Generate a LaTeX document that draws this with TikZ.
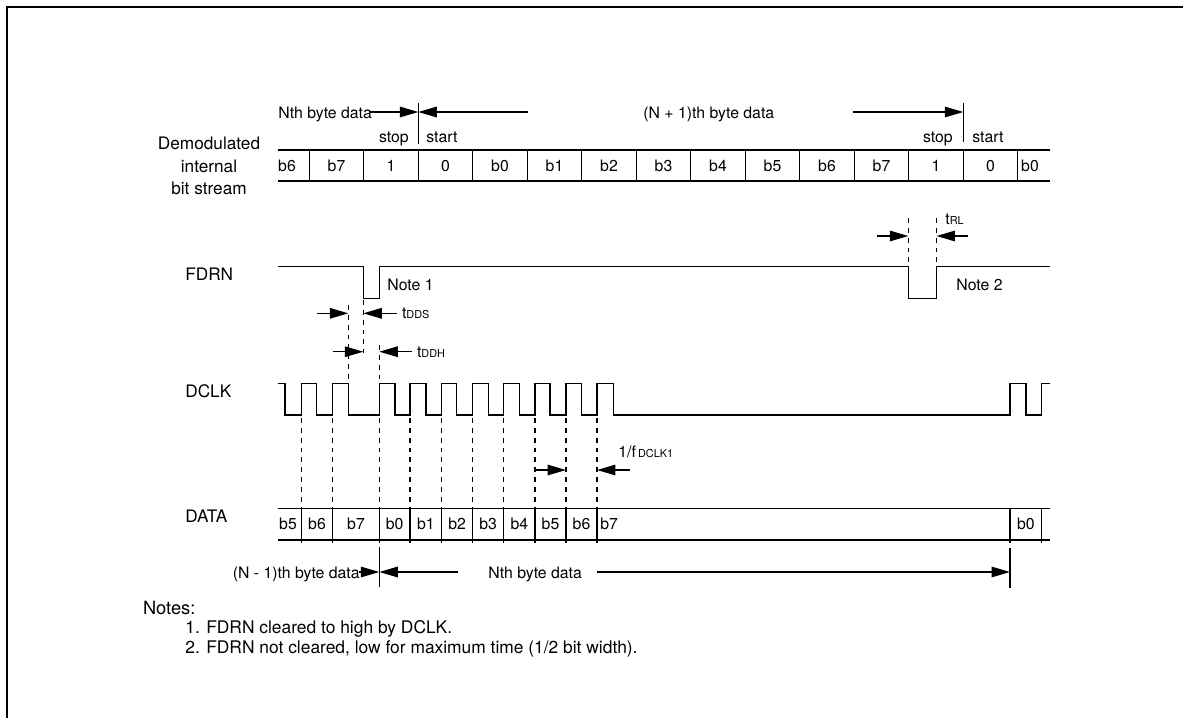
\documentclass[tikz,border=0pt]{standalone}
\usepackage{fontspec}
\setmainfont{TeX Gyre Heros}
\usetikzlibrary{arrows.meta}

\tikzset{
    lbl/.style={inner sep=0pt, font=\fontsize{9}{11}\selectfont, text height=6.5pt, text depth=0pt},
    sig/.style={inner sep=0pt, font=\fontsize{9.8}{12.8}\selectfont, text height=7pt, text depth=0pt},
    notetext/.style={inner sep=0pt, font=\fontsize{9.9}{12}\selectfont, text height=7pt, text depth=0pt},
    wave/.style={line width=0.7pt},
    dashline/.style={line width=0.6pt, dash pattern=on 2.8pt off 2.8pt},
    dimarrow/.style={line width=0.7pt, -{Triangle[length=10.5pt,width=6pt]}},
}
\newcommand{\tsub}[1]{{\fontsize{6.2}{7}\selectfont #1}}

\begin{document}
\begin{tikzpicture}[x=0.02cm, y=-0.02cm]
    \useasboundingbox (0,0) rectangle (1183,718);
    % Frame
    \draw[line width=1pt] (7,718) -- (7,7) -- (1183,7);

    % Signal names
    \node[font=\fontsize{9.8}{12.8}\selectfont, align=center, inner sep=0pt] (bitname) at (209,166) {Demodulated\\internal\\bit stream};
    \node[sig, anchor=west] (fdrnname) at (185,274) {FDRN};
    \node[sig, anchor=west] (dclkname) at (185,391) {DCLK};
    \node[sig, anchor=west] (dataname) at (185,516) {DATA};

    % Bit stream row
    \draw[wave] (278,150) -- (1050,150) (278,181) -- (1050,181);
    \draw[wave] (309.3,150) -- (309.3,182) (363.8,150) -- (363.8,182)
        (418.3,150) -- (418.3,182) (472.8,150) -- (472.8,182)
        (527.3,150) -- (527.3,182) (581.8,150) -- (581.8,182)
        (636.3,150) -- (636.3,182) (690.8,150) -- (690.8,182)
        (745.3,150) -- (745.3,182) (799.8,150) -- (799.8,182)
        (854.3,150) -- (854.3,182) (908.8,150) -- (908.8,182)
        (963.3,150) -- (963.3,182) (1017.8,150) -- (1017.8,182);
    \node[lbl] (s1) at (287,165.5) {b6};
    \node[lbl] (s2) at (336.5,165.5) {b7};
    \node[lbl] (s3) at (391,165.5) {1};
    \node[lbl] (s4) at (445.5,165.5) {0};
    \node[lbl] (s5) at (500,165.5) {b0};
    \node[lbl] (s6) at (554.5,165.5) {b1};
    \node[lbl] (s7) at (609,165.5) {b2};
    \node[lbl] (s8) at (663.5,165.5) {b3};
    \node[lbl] (s9) at (718,165.5) {b4};
    \node[lbl] (s10) at (772.5,165.5) {b5};
    \node[lbl] (s11) at (827,165.5) {b6};
    \node[lbl] (s12) at (881.5,165.5) {b7};
    \node[lbl] (s13) at (936,165.5) {1};
    \node[lbl] (s14) at (990.5,165.5) {0};
    \node[lbl] (s15) at (1030,165.5) {b0};

    % Byte frames above the bit stream
    \node[lbl, anchor=west] (nth) at (278,113) {Nth byte data};
    \node[lbl, anchor=west] (n1th) at (643,113) {(N + 1)th byte data};
    \node[lbl, anchor=east] (stop1) at (409,137) {stop};
    \node[lbl, anchor=west] (start1) at (426,137) {start};
    \node[lbl, anchor=east] (stop2) at (953,137) {stop};
    \node[lbl, anchor=west] (start2) at (972,137) {start};
    \coordinate (sep1top) at (418.3,103);
    \coordinate (sep1bot) at (418.3,144);
    \coordinate (sep2top) at (963.3,103);
    \coordinate (sep2bot) at (963.3,142);
    \coordinate (sep1) at (418.3,112);
    \coordinate (sep2) at (963.3,112);
    \coordinate (nthend) at (370,112);
    \coordinate (n1thbeg) at (528,112);
    \coordinate (n1thend) at (853,112);
    \draw[wave] (sep1top) -- (sep1bot);
    \draw[wave] (sep2top) -- (sep2bot);
    \draw[dimarrow] (nthend) -- (sep1);
    \draw[dimarrow] (n1thbeg) -- (sep1);
    \draw[dimarrow] (n1thend) -- (sep2);

    % FDRN
    \draw[wave] (278,266.7) -- (363.3,266.7) -- (363.3,298.3) -- (379.3,298.3) -- (379.3,266.7)
        -- (908.3,266.7) -- (908.3,298.3) -- (936.5,298.3) -- (936.5,266.7) -- (1050,266.7);
    \node[lbl, anchor=west] (note1) at (387,285) {Note 1};
    \node[lbl, anchor=west] (note2) at (956,285) {Note 2};

    % tRL
    \coordinate (rl1top) at (908.3,218);
    \coordinate (rl1bot) at (908.3,266.7);
    \coordinate (rl2top) at (936.5,218);
    \coordinate (rl2bot) at (936.5,266.7);
    \coordinate (rl1) at (908.3,236);
    \coordinate (rl2) at (936.5,236);
    \coordinate (rlL) at (877,236);
    \coordinate (rlR) at (968,236);
    \draw[dashline] (rl1top) -- (rl1bot);
    \draw[dashline] (rl2top) -- (rl2bot);
    \draw[dimarrow] (rlL) -- (rl1);
    \draw[dimarrow] (rlR) -- (rl2);
    \node[lbl, anchor=west] (trl) at (945,219) {t\tsub{RL}};

    % tDDS and tDDH
    \coordinate (ds1top) at (348.3,305);
    \coordinate (ds1bot) at (348.3,383.3);
    \coordinate (ds2top) at (363.3,300);
    \coordinate (ds2bot) at (363.3,353);
    \coordinate (dh2top) at (379.3,345);
    \coordinate (dh2bot) at (379.3,383.3);
    \draw[dashline] (ds1top) -- (ds1bot);
    \draw[dashline] (ds2top) -- (ds2bot);
    \draw[dashline] (dh2top) -- (dh2bot);
    \coordinate (ds1) at (348.3,313.3);
    \coordinate (ds2) at (363.3,313.3);
    \coordinate (dsL) at (316.7,313.3);
    \coordinate (dsR) at (396.7,313.3);
    \draw[dimarrow] (dsL) -- (ds1);
    \draw[dimarrow] (dsR) -- (ds2);
    \node[lbl, anchor=west] (tdds) at (401.7,312.5) {t\tsub{DDS}};
    \coordinate (dh1) at (363.3,351.7);
    \coordinate (dh2) at (379.3,351.7);
    \coordinate (dhL) at (332.7,351.7);
    \coordinate (dhR) at (411.7,351.7);
    \draw[dimarrow] (dhL) -- (dh1);
    \draw[dimarrow] (dhR) -- (dh2);
    \node[lbl, anchor=west] (tddh) at (416.7,352) {t\tsub{DDH}};

    % DCLK
    \draw[wave] (278.3,383.3) -- (285,383.3) -- (285,415) -- (301.7,415) -- (301.7,383.3)
        -- (316.7,383.3) -- (316.7,415) -- (332.5,415) -- (332.5,383.3)
        -- (348.3,383.3) -- (348.3,415) -- (379.3,415) -- (379.3,383.3)
        -- (395,383.3) -- (395,415) -- (410,415) -- (410,383.3)
        -- (426,383.3) -- (426,415) -- (441.7,415) -- (441.7,383.3)
        -- (456.7,383.3) -- (456.7,415) -- (472.7,415) -- (472.7,383.3)
        -- (488.3,383.3) -- (488.3,415) -- (503.7,415) -- (503.7,383.3)
        -- (519.3,383.3) -- (519.3,415) -- (535,415) -- (535,383.3)
        -- (550,383.3) -- (550,415) -- (566,415) -- (566,383.3)
        -- (581.7,383.3) -- (581.7,415) -- (597,415) -- (597,383.3)
        -- (613.5,383.3) -- (613.5,415) -- (1010,415) -- (1010,383.3)
        -- (1026,383.3) -- (1026,415) -- (1041.7,415) -- (1041.7,383.3) -- (1050,383.3);

    % Sampling edges down to DATA
    \draw[dashline] (301.7,418) -- (301.7,508.3) (332.5,418) -- (332.5,508.3)
        (379.3,418) -- (379.3,508.3) (410,418) -- (410,508.3)
        (441.7,418) -- (441.7,508.3) (472.7,418) -- (472.7,508.3)
        (503.7,418) -- (503.7,508.3) (535,418) -- (535,508.3)
        (566,418) -- (566,508.3) (597,418) -- (597,508.3);

    % 1/fDCLK1
    \coordinate (fk1) at (566,470);
    \coordinate (fk2) at (597,470);
    \coordinate (fkL) at (535,470);
    \coordinate (fkR) at (630,470);
    \draw[dimarrow] (fkL) -- (fk1);
    \draw[dimarrow] (fkR) -- (fk2);
    \node[lbl, anchor=west] (fdclk) at (618,452) {1/f\kern1.2pt\tsub{DCLK1}};

    % DATA row
    \draw[wave] (278,508.3) -- (1050,508.3) (278,540) -- (1050,540);
    \draw[wave] (301.7,508.3) -- (301.7,543) (332.5,508.3) -- (332.5,543)
        (379.3,508.3) -- (379.3,543) (410,508.3) -- (410,543)
        (441.7,508.3) -- (441.7,543) (472.7,508.3) -- (472.7,543)
        (503.7,508.3) -- (503.7,543) (535,508.3) -- (535,543)
        (566,508.3) -- (566,543) (597,508.3) -- (597,543)
        (1010,508.3) -- (1010,543) (1041.7,508.3) -- (1041.7,543);
    \node[lbl] (d1) at (288,524.2) {b5};
    \node[lbl] (d2) at (317,524.2) {b6};
    \node[lbl] (d3) at (356,524.2) {b7};
    \node[lbl] (d4) at (394.6,524.2) {b0};
    \node[lbl] (d5) at (425.8,524.2) {b1};
    \node[lbl] (d6) at (457.2,524.2) {b2};
    \node[lbl] (d7) at (488.2,524.2) {b3};
    \node[lbl] (d8) at (519.3,524.2) {b4};
    \node[lbl] (d9) at (550.5,524.2) {b5};
    \node[lbl] (d10) at (581.5,524.2) {b6};
    \node[lbl, anchor=west] (d11) at (600,524.2) {b7};
    \node[lbl] (d12) at (1025.8,524.2) {b0};

    % Byte frames below DATA
    \node[lbl, anchor=east] (nm1th) at (360,573) {(N - 1)th byte data};
    \node[lbl, anchor=west] (nthb) at (488,573) {Nth byte data};
    \coordinate (sep3top) at (379.3,547);
    \coordinate (sep3bot) at (379.3,587);
    \coordinate (sep4top) at (1010,548);
    \coordinate (sep4bot) at (1010,588);
    \coordinate (sep3) at (379.3,572);
    \coordinate (sep4) at (1010,572);
    \coordinate (nm1end) at (359,572);
    \coordinate (nthbbeg) at (458,572);
    \coordinate (nthbend) at (597,572);
    \draw[wave] (sep3top) -- (sep3bot);
    \draw[wave] (sep4top) -- (sep4bot);
    \draw[dimarrow] (nm1end) -- (sep3);
    \draw[dimarrow] (nthbbeg) -- (sep3);
    \draw[dimarrow] (nthbend) -- (sep4);

    % Notes
    \node[notetext, font=\fontsize{10.4}{12}\selectfont, anchor=west] (notes) at (142.7,608) {Notes:};
    \node[notetext, anchor=west] (item1) at (185,627) {1. FDRN cleared to high by DCLK.};
    \node[notetext, anchor=west] (item2) at (185,647) {2. FDRN not cleared, low for maximum time (1/2 bit width).};
\end{tikzpicture}
\end{document}
